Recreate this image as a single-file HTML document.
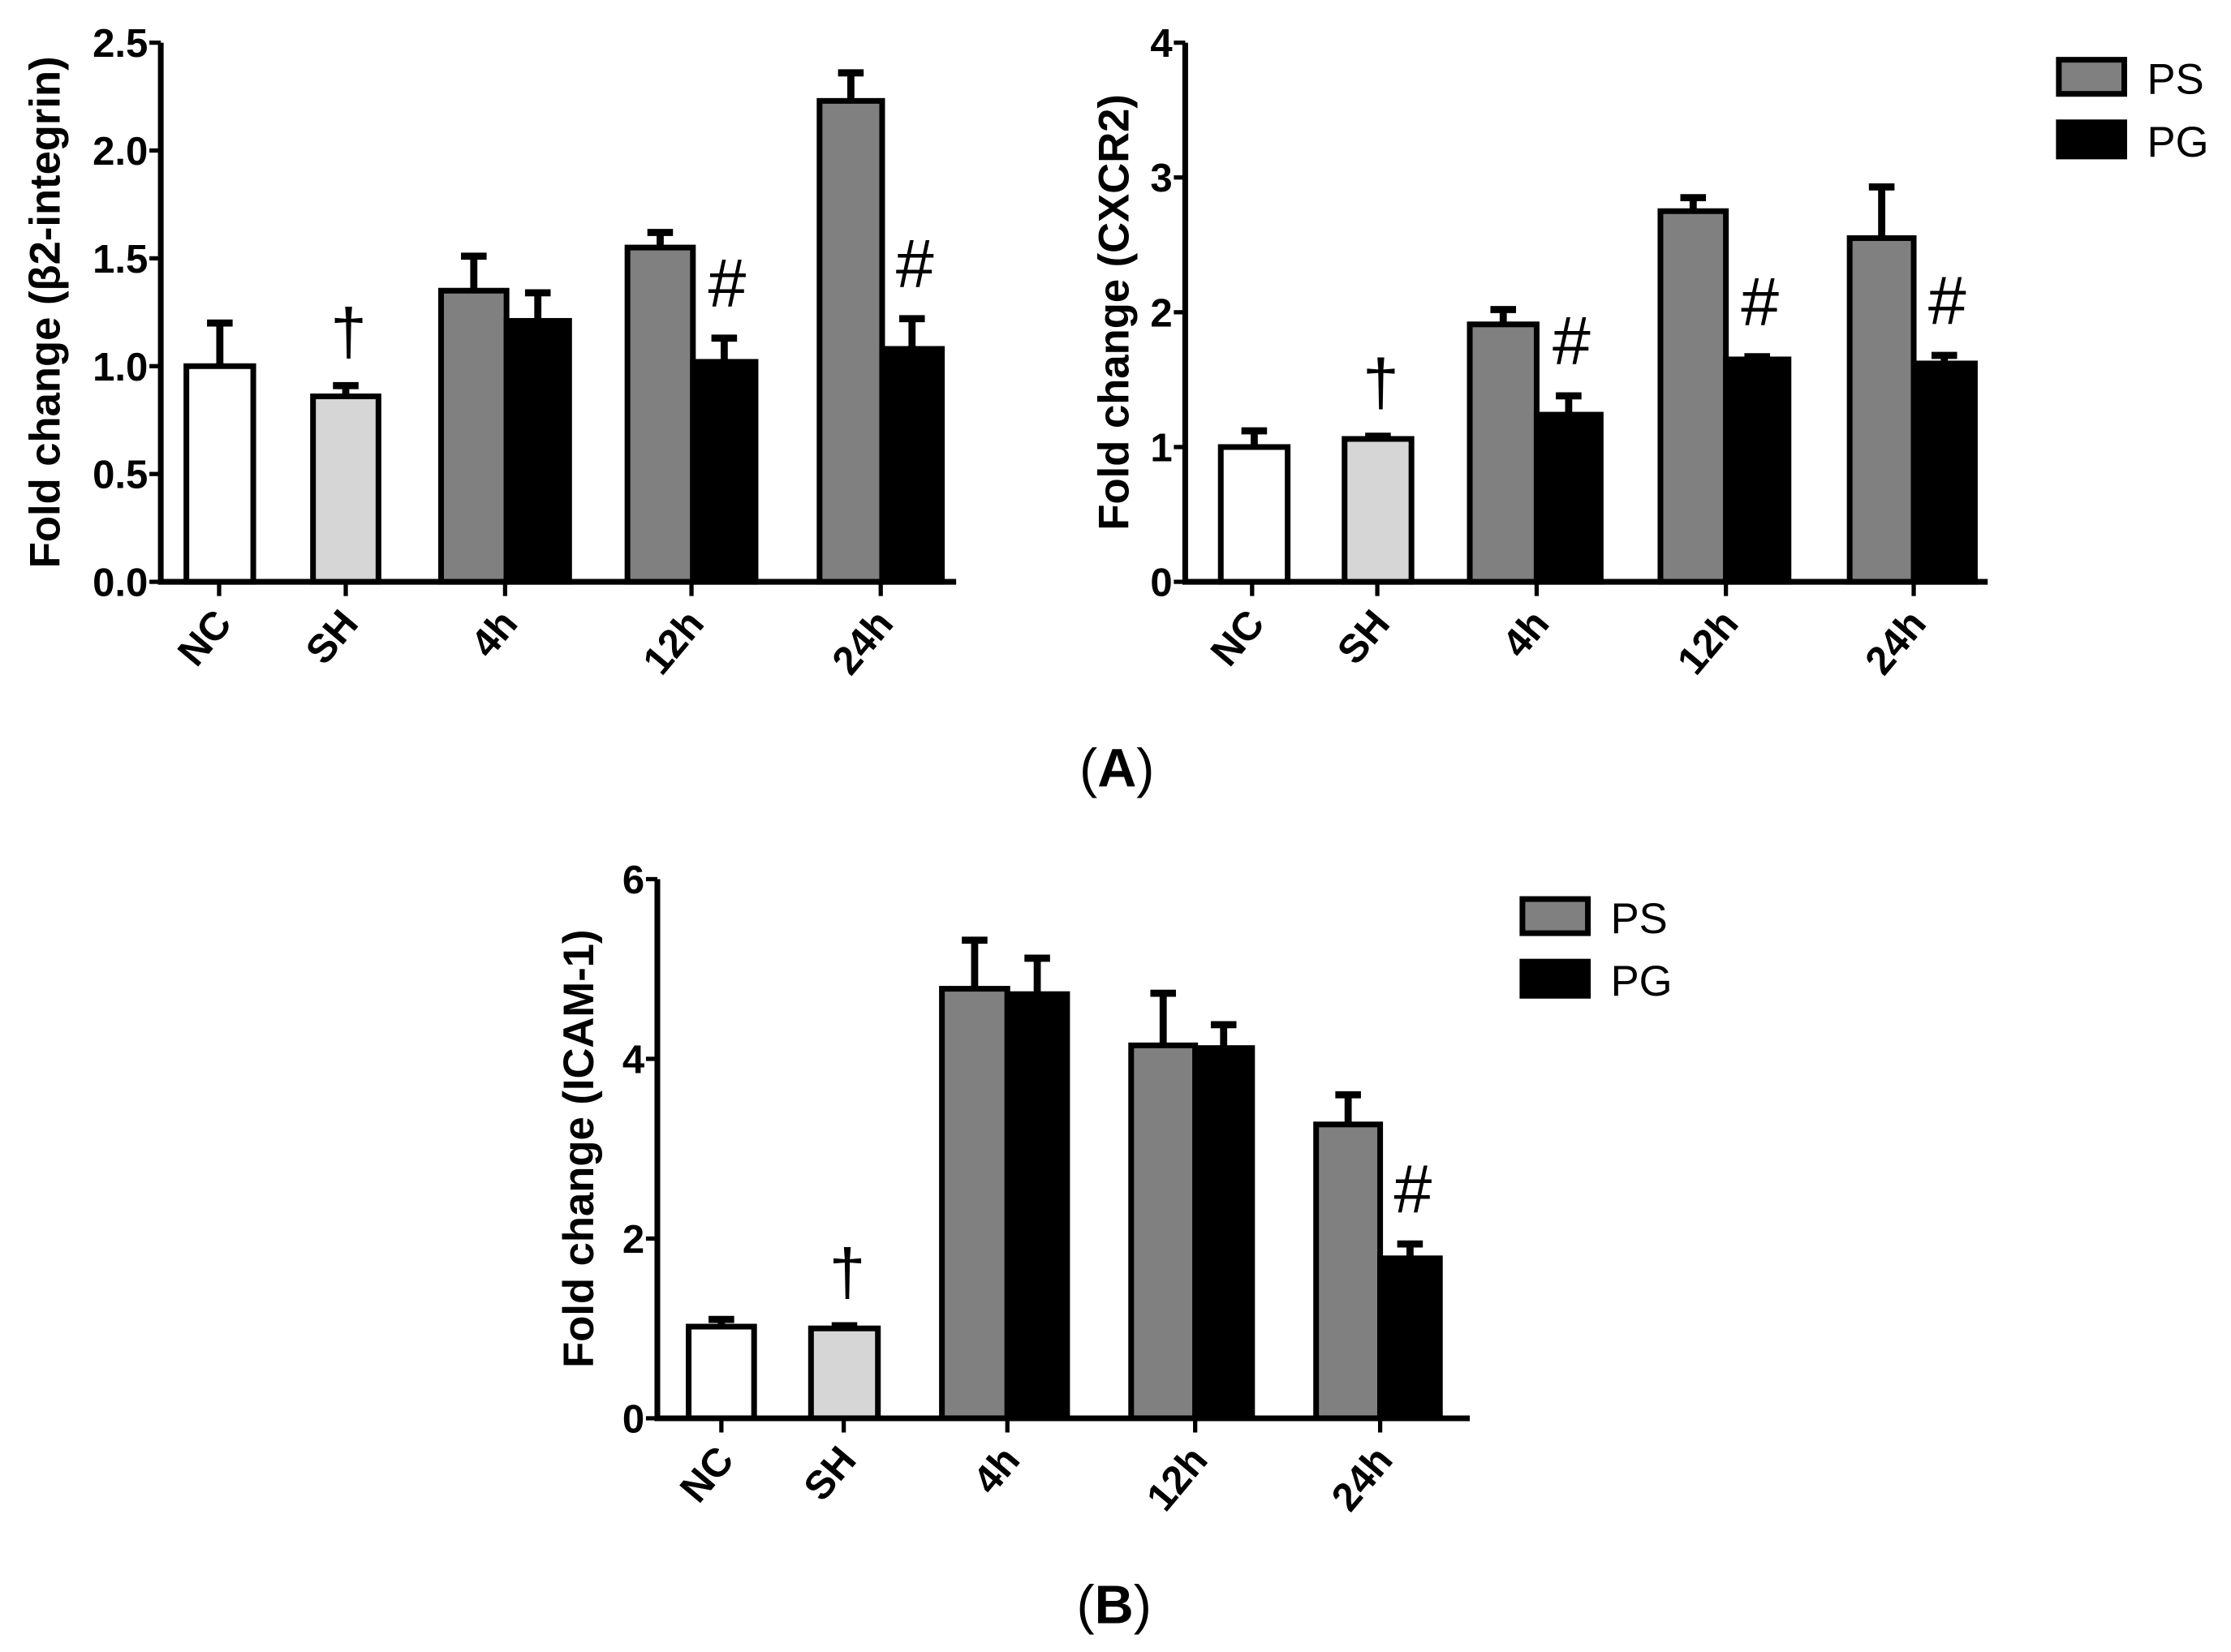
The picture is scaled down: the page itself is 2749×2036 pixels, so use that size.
<!DOCTYPE html>
<html><head><meta charset="utf-8"><style>
html,body{margin:0;padding:0;background:#fff}
svg{display:block}
text{font-family:"Liberation Sans",Arial,sans-serif}
</style></head><body>
<svg id="fig" width="2749" height="2036" viewBox="0 0 1568 1161.3" preserveAspectRatio="none" xmlns="http://www.w3.org/2000/svg">
<text x="785" y="553" font-family="Liberation Serif" font-size="38" text-anchor="middle">(<tspan font-weight="bold">A</tspan>)</text>
<text x="783" y="1141" font-family="Liberation Serif" font-size="38" text-anchor="middle">(<tspan font-weight="bold">B</tspan>)</text>
</svg>
<script>
const categories = ["NC","SH","4h","12h","24h"];
// chart 1: beta2-integrin
const b2Single = [1.0, 0.86];
const b2SingleErr = [1.2, 0.91];
const b2PS = [1.35, 1.55, 2.23];
const b2PSErr = [1.51, 1.62, 2.36];
const b2PG = [1.21, 1.02, 1.08];
const b2PGErr = [1.34, 1.13, 1.22];
const b2Ticks = ["0.0","0.5","1.0","1.5","2.0","2.5"];
// chart 2: CXCR2
const cxSingle = [1.0, 1.06];
const cxSingleErr = [1.12, 1.08];
const cxPS = [1.91, 2.75, 2.55];
const cxPSErr = [2.02, 2.85, 2.93];
const cxPG = [1.24, 1.65, 1.62];
const cxPGErr = [1.38, 1.67, 1.68];
const cxTicks = ["0","1","2","3","4"];
// chart 3: ICAM-1
const icSingle = [1.02, 1.0];
const icSingleErr = [1.1, 1.03];
const icPS = [4.78, 4.15, 3.27];
const icPSErr = [5.32, 4.73, 3.6];
const icPG = [4.72, 4.12, 1.78];
const icPGErr = [5.12, 4.38, 1.94];
const icTicks = ["0","2","4","6"];
const b2Sig = ["", "#", "#"];
const cxSig = ["#", "#", "#"];
const icSig = ["", "", "#"];

const NS = "http://www.w3.org/2000/svg";
const svg = document.getElementById("fig");
function mk(tag, attrs, parent){
  const e = document.createElementNS(NS, tag);
  for (const k in attrs) e.setAttribute(k, attrs[k]);
  (parent||svg).appendChild(e);
  return e;
}

function drawChart(cfg){
  const g = mk("g", {});
  
  
  const ymax = parseFloat(cfg.ticks[cfg.ticks.length-1]);
  const y = v => cfg.y0 - (v/ymax)*(cfg.y0-cfg.yTop);
  function bar(x1, x2, v, err, fill, nm){
    const r = mk("rect", {x:x1, y:y(v), width:x2-x1, height:cfg.y0-y(v), fill:fill, stroke:"#000", "stroke-width":4}, g);
    
    
    const cx = (x1+x2)/2;
    const l = mk("path", {d:`M${cx},${y(v)} V${y(err)} M${cx-9},${y(err)} H${cx+9}`, stroke:"#000", "stroke-width":5, fill:"none"}, g);
    
    
  }
  const singleFill = ["#fff", "#d6d6d6"];
  for (let i=0;i<2;i++){
    bar(cfg.single[i][0], cfg.single[i][1], cfg.sv[i], cfg.se[i], singleFill[i], 'bar-' + categories[i].toLowerCase());
  }
  for (let j=0;j<3;j++){
    const [a,m,b] = cfg.pair[j];
    bar(a, m, cfg.ps[j], cfg.pse[j], "#808080", 'bar-ps-' + categories[j+2]);
    bar(m, b, cfg.pg[j], cfg.pge[j], "#000", 'bar-pg-' + categories[j+2]);
    if (cfg.sig[j]){
      const t = mk("text", {x:(m+b)/2+2, y:y(cfg.pge[j])-22, "font-size":48, "text-anchor":"middle", "font-family":"Liberation Serif"}, g);
      t.textContent = "#";
      
      
    }
  }
  const dg = mk("text", {x:(cfg.single[1][0]+cfg.single[1][1])/2+2, y:y(cfg.se[1])-22, "font-size":46, "text-anchor":"middle", "font-family":"Liberation Serif"}, g);
  dg.textContent = "†";
  
  
  const ax = mk("path", {d:`M${cfg.x0},${cfg.yTop} V${cfg.y0} H${cfg.xEnd}`, stroke:"#000", "stroke-width":4, fill:"none"}, g);
  
  
  cfg.ticks.forEach(tk => {
    const ty = y(parseFloat(tk));
    mk("path", {d:`M${cfg.x0-8},${ty} H${cfg.x0}`, stroke:"#000", "stroke-width":3}, g);
    const t = mk("text", {x:cfg.x0-9, y:ty+10, "font-size":28, "font-weight":"bold", "text-anchor":"end"}, g);
    t.textContent = tk;
    
    
  });
  cfg.xt.forEach((tx, i) => {
    mk("path", {d:`M${tx},${cfg.y0} V${cfg.y0+10}`, stroke:"#000", "stroke-width":3}, g);
    const t = mk("text", {x:0, y:0, "font-size":28, "font-weight":"bold", "text-anchor":"end", transform:`translate(${tx+10},${cfg.y0+30}) rotate(-50)`}, g);
    t.textContent = categories[i];
    
    
  });
  const yt = mk("text", {x:0, y:0, "font-size":30, "font-weight":"bold", "text-anchor":"middle", transform:`translate(${cfg.titleX},${(cfg.y0+cfg.yTop)/2}) rotate(-90)`}, g);
  yt.textContent = cfg.title;
  
  
  if (cfg.legend){
    const [lx, ly] = cfg.legend;
    [["PS","#808080"],["PG","#000"]].forEach((p, k) => {
      const r = mk("rect", {x:lx, y:ly+k*44, width:46, height:24, fill:p[1], stroke:"#000", "stroke-width":4}, g);
      
      
      const t = mk("text", {x:lx+62, y:ly+k*44+24, "font-size":30}, g);
      t.textContent = p[0];
      
      
    });
  }
}

drawChart({name:"chart-b2-integrin", x0:113, xEnd:672, y0:409, yTop:30, ticks:b2Ticks,
  single:[[131,178],[220,266]], sv:b2Single, se:b2SingleErr,
  pair:[[310,356,400],[441,487,531],[576,620,662]], ps:b2PS, pse:b2PSErr, pg:b2PG, pge:b2PGErr, sig:b2Sig,
  xt:[154,243,355,486,619], title:"Fold change (β2-integrin)", titleX:42});
drawChart({name:"chart-cxcr2", x0:833, xEnd:1397, y0:409, yTop:30, ticks:cxTicks,
  single:[[858,905],[945,992]], sv:cxSingle, se:cxSingleErr,
  pair:[[1033,1080,1125],[1167,1213,1257],[1300,1345,1388]], ps:cxPS, pse:cxPSErr, pg:cxPG, pge:cxPGErr, sig:cxSig,
  xt:[880,968,1080,1213,1345], title:"Fold change (CXCR2)", titleX:793, legend:[1447,42]});
drawChart({name:"chart-icam1", x0:462, xEnd:1033, y0:997, yTop:618, ticks:icTicks,
  single:[[484,530],[570,617]], sv:icSingle, se:icSingleErr,
  pair:[[662,708,750],[795,840,880],[925,970,1012]], ps:icPS, pse:icPSErr, pg:icPG, pge:icPGErr, sig:icSig,
  xt:[507,593,708,840,970], title:"Fold change (ICAM-1)", titleX:417, legend:[1070,632]});
</script>
</body></html>
